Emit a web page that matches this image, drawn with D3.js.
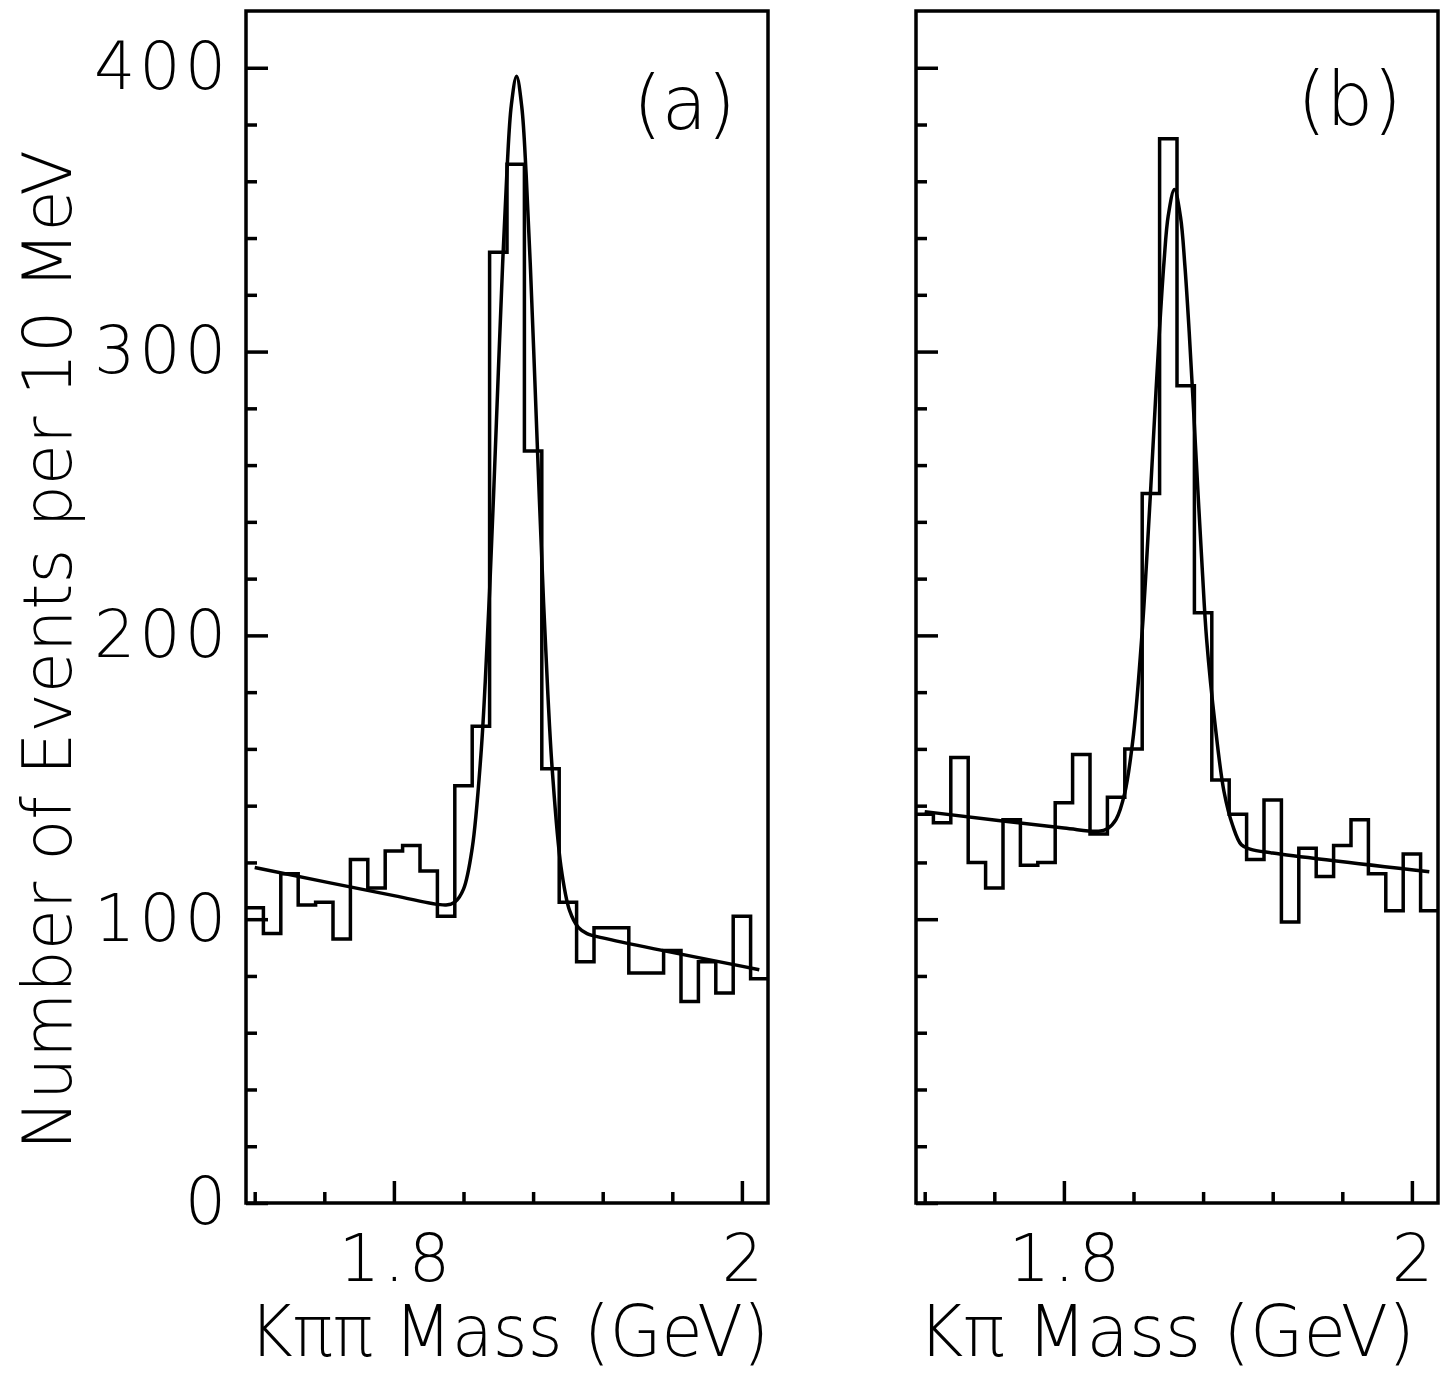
<!DOCTYPE html>
<html>
<head>
<meta charset="utf-8">
<script src="https://cdn.jsdelivr.net/npm/d3@7"></script>
<style>
    body { margin: 0; background: #fff; }
    .txt { font-family: "DejaVu Sans", "Liberation Sans", sans-serif; font-weight: 200; fill: #000; }
</style>
</head>
<body>
<div id="chart"></div>
<script>
// 10 MeV bins, first bin starts at 1.715 GeV, 30 bins
const binLow = 1.715;
const binWidth = 0.01;
const nBins = 30;

// (a) K pi pi histogram contents, bin centres 1.72 ... 2.01
const countsKpipi = [104, 95, 116, 105, 106, 93, 121, 111, 124, 126,
                     117, 101, 147, 168, 335, 366, 265, 153, 106, 85,
                     97, 97, 81, 81, 89, 71, 85, 74, 101, 79];

// (b) K pi histogram contents
const countsKpi = [137, 134, 157, 120, 111, 135, 119, 120, 141, 158,
                   130, 143, 160, 250, 375, 288, 208, 149, 137, 121,
                   142, 99, 125, 115, 126, 135, 116, 103, 123, 103];

// fitted curves
const fitKpipiMass  = [1.720, 1.800, 1.830, 1.835, 1.840, 1.845, 1.850, 1.8525, 1.855, 1.8575,
                       1.860, 1.8625, 1.865, 1.8675, 1.8705, 1.8735, 1.876, 1.8785, 1.881, 1.8835,
                       1.886, 1.8885, 1.891, 1.896, 1.901, 1.906, 1.911, 1.920, 2.010];
const fitKpipiValue = [118.2, 108.3, 105.0, 106.0, 110.6, 125.0, 157.8, 183.6, 215.6, 252.8,
                       292.5, 331.0, 363.9, 386.9, 397.0, 386.2, 362.5, 329.0, 289.9, 249.6,
                       211.8, 179.1, 152.7, 118.6, 103.0, 97.1, 94.9, 93.4, 82.2];

const fitKpiMass  = [1.720, 1.800, 1.820, 1.825, 1.830, 1.835, 1.840, 1.845, 1.8475, 1.850,
                     1.8525, 1.855, 1.8575, 1.860, 1.8635, 1.867, 1.8695, 1.872, 1.8745, 1.877,
                     1.8795, 1.882, 1.887, 1.892, 1.897, 1.902, 1.907, 1.920, 2.010];
const fitKpiValue = [137.9, 132.1, 131.0, 131.9, 135.2, 144.5, 165.1, 201.5, 225.8, 252.9,
                     281.2, 308.2, 331.3, 348.0, 357.1, 347.5, 330.5, 307.0, 279.6, 251.0,
                     223.5, 198.8, 168.0, 145.0, 133.0, 126.2, 124.7, 123.3, 116.7];

// axis ticks
const xMajorTicks = [1.8, 2.0];
const xMinorTicks = [1.72, 1.76, 1.84, 1.88, 1.92, 1.96];
const yMajorTicks = [0, 100, 200, 300, 400];
const yMinorTicks = [20, 40, 60, 80, 120, 140, 160, 180, 220, 240, 260, 280, 320, 340, 360, 380];

const panelLabels = ["(a)", "(b)"];
const xTitles = ["K\u03c0\u03c0 Mass (GeV)", "K\u03c0 Mass (GeV)"];
const yTitle = "Number of Events per 10 MeV";

// page layout
const width = 1441;
const height = 1376;
const panelTop = 11;
const panelBottom = 1203;
const panelWidth = 522;
const lineW = 3.5;

const svg = d3.select("#chart")
    .append("svg")
    .attr("width", width)
    .attr("height", height)
    .style("display", "block");

svg.append("rect")
    .attr("width", width)
    .attr("height", height)
    .attr("fill", "#fff");

function drawPanel(opts) {
    const x = d3.scaleLinear()
        .domain([binLow, binLow + nBins * binWidth])
        .range([opts.left, opts.left + panelWidth]);

    const y = d3.scaleLinear()
        .domain([0, 420])
        .range([panelBottom, panelTop]);

    const g = svg.append("g");

    // x axis, ticks pointing inwards
    const xMajor = g.append("g")
        .attr("transform", `translate(0, ${panelBottom})`)
        .call(d3.axisBottom(x)
            .tickValues(xMajorTicks)
            .tickSize(-22)
            .tickPadding(32)
            .tickFormat(d3.format("~g")));

    g.append("g")
        .attr("transform", `translate(0, ${panelBottom})`)
        .call(d3.axisBottom(x)
            .tickValues(xMinorTicks)
            .tickSize(-11)
            .tickFormat(""));

    // y axis
    const yMajor = g.append("g")
        .attr("transform", `translate(${opts.left}, 0)`)
        .call(d3.axisLeft(y)
            .tickValues(yMajorTicks)
            .tickSize(-22)
            .tickPadding(16)
            .tickFormat(opts.showYLabels ? d3.format("d") : ""));

    g.append("g")
        .attr("transform", `translate(${opts.left}, 0)`)
        .call(d3.axisLeft(y)
            .tickValues(yMinorTicks)
            .tickSize(-11)
            .tickFormat(""));

    g.selectAll(".domain").remove();
    g.selectAll(".tick line")
        .attr("stroke", "#000")
        .attr("stroke-width", lineW);

    [xMajor, yMajor].forEach(axis => {
        axis.attr("font-family", null).attr("font-size", null);
        axis.selectAll("text")
            .attr("class", "txt")
            .attr("font-size", 65)
            .attr("letter-spacing", 4);
    });
    // keep the x labels centred on their ticks despite the letter spacing
    xMajor.selectAll("text").attr("dx", 2);

    // frame
    g.append("rect")
        .attr("x", x(binLow))
        .attr("y", y(420))
        .attr("width", x(binLow + nBins * binWidth) - x(binLow))
        .attr("height", y(0) - y(420))
        .attr("fill", "none")
        .attr("stroke", "#000")
        .attr("stroke-width", lineW);

    // histogram outline
    const histPoints = opts.counts.map((c, i) => [binLow + i * binWidth, c]);
    histPoints.push([binLow + nBins * binWidth, opts.counts[nBins - 1]]);

    const stepLine = d3.line()
        .x(d => x(d[0]))
        .y(d => y(d[1]))
        .curve(d3.curveStepAfter);

    g.append("path")
        .datum(histPoints)
        .attr("d", stepLine)
        .attr("fill", "none")
        .attr("stroke", "#000")
        .attr("stroke-width", lineW)
        .attr("stroke-linejoin", "miter");

    // fit curve
    const fitLine = d3.line()
        .x(d => x(d[0]))
        .y(d => y(d[1]))
        .curve(d3.curveCatmullRom.alpha(0.5));

    g.append("path")
        .datum(opts.fitMass.map((m, i) => [m, opts.fitValue[i]]))
        .attr("d", fitLine)
        .attr("fill", "none")
        .attr("stroke", "#000")
        .attr("stroke-width", lineW);

    // panel label
    g.append("text")
        .attr("class", "txt")
        .attr("x", opts.labelX)
        .attr("y", opts.labelY)
        .attr("text-anchor", "end")
        .attr("font-size", 74)
        .text(opts.label);

    // x title
    g.append("text")
        .attr("class", "txt")
        .attr("x", opts.titleX)
        .attr("y", 1356)
        .attr("font-size", 72)
        .attr("textLength", opts.titleLength)
        .attr("lengthAdjust", "spacingAndGlyphs")
        .text(opts.title);
}

drawPanel({
    left: 246,
    counts: countsKpipi,
    fitMass: fitKpipiMass,
    fitValue: fitKpipiValue,
    showYLabels: true,
    label: panelLabels[0],
    labelX: 736,
    labelY: 129,
    title: xTitles[0],
    titleX: 249,
    titleLength: 520
});

drawPanel({
    left: 916,
    counts: countsKpi,
    fitMass: fitKpiMass,
    fitValue: fitKpiValue,
    showYLabels: false,
    label: panelLabels[1],
    labelX: 1402,
    labelY: 125,
    title: xTitles[1],
    titleX: 918,
    titleLength: 497
});

// y axis title
svg.append("text")
    .attr("class", "txt")
    .attr("transform", "translate(71, 650) rotate(-90)")
    .attr("text-anchor", "middle")
    .attr("font-size", 68)
    .attr("textLength", 1000)
    .attr("lengthAdjust", "spacingAndGlyphs")
    .text(yTitle);
</script>
</body>
</html>
